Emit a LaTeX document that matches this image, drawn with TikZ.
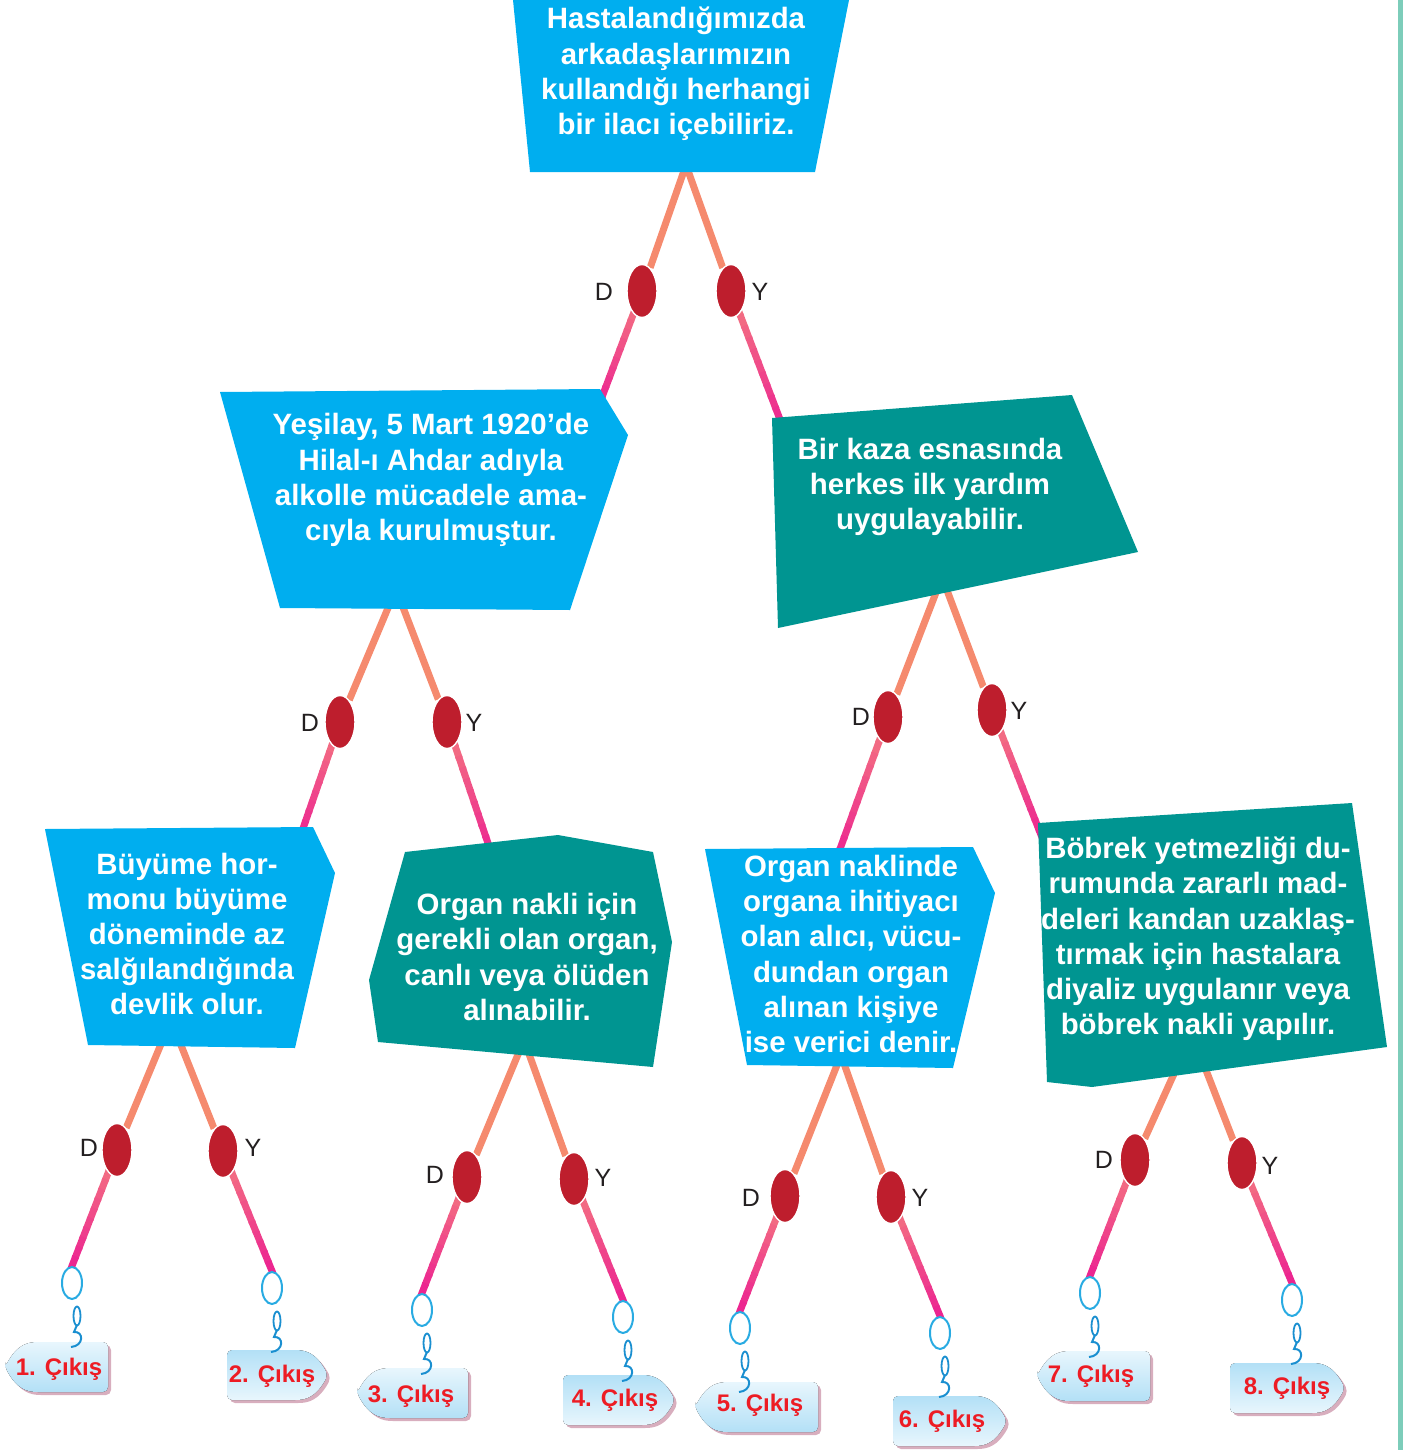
\documentclass[tikz,border=0pt]{standalone}
\usepackage{fontspec}
\setmainfont{Liberation Sans}
\usetikzlibrary{shapes.geometric,calc}
\definecolor{cyanbox}{HTML}{00AEEF}
\definecolor{tealbox}{HTML}{009591}
\definecolor{ellred}{HTML}{BE1E2D}
\definecolor{salmon}{HTML}{F58A6E}
\definecolor{pkA}{HTML}{F47A80}
\definecolor{pkB}{HTML}{EC2690}
\definecolor{ringblue}{HTML}{29ABE2}
\definecolor{hookblue}{HTML}{1A8FD0}
\definecolor{tagtop}{HTML}{E8F6FD}
\definecolor{tagbot}{HTML}{B3E0F6}
\definecolor{tagshadow}{HTML}{D8AEBE}
\definecolor{tagred}{HTML}{ED1C24}
\definecolor{sidegreen}{HTML}{7DCDBA}
\definecolor{labgray}{HTML}{231F20}
\pgfdeclarelayer{bg}
\pgfsetlayers{bg,main}
\tikzset{
 boxtext/.style={text=white,font=\bfseries\fontsize{14.7}{17.6}\selectfont,align=center,inner sep=0pt},
 dot/.style={ellipse,fill=ellred,draw=white,line width=0.7pt,minimum width=15pt,minimum height=26.5pt,inner sep=0pt},
 lab/.style={text=labgray,font=\fontsize{12.5}{14}\selectfont,inner sep=0pt},
 upline/.style={draw=salmon,line width=3.5pt},
 ring/.style={ellipse,draw=ringblue,fill=white,line width=1pt,minimum width=10pt,minimum height=16pt,inner sep=0pt},
 chainlink/.style={ellipse,draw=hookblue,line width=0.9pt,minimum width=3.5pt,minimum height=9.5pt,inner sep=0pt},
 tagtext/.style={text=tagred,font=\bfseries\fontsize{12}{13}\selectfont,inner sep=0pt},
}
\newcommand\gradseg[2]{%
 \foreach \i in {0,...,11}{%
  \pgfmathsetmacro\gsA{\i/12}%
  \pgfmathsetmacro\gsB{(\i+1.2)/12}%
  \pgfmathtruncatemacro\gcc{100-\i*100/11}%
  \draw[line width=3.5pt,color=pkA!\gcc!pkB] ($(#1)!\gsA!(#2)$) -- ($(#1)!\gsB!(#2)$);
 }}
% left-pointing tag: tip x, centre y, right x, options
\newcommand\tagL[4]{%
 \fill[rounded corners=2.5pt,#4] (#1,#2) .. controls ({#1+12},{#2-22}) and ({#1+22},{#2-25}) .. ({#1+38},{#2-25}) -- ({#3},{#2-25}) -- ({#3},{#2+25}) -- ({#1+38},{#2+25}) .. controls ({#1+22},{#2+25}) and ({#1+12},{#2+22}) .. (#1,#2) -- cycle;}
% right-pointing tag: left x, centre y, tip x, options
\newcommand\tagR[4]{%
 \fill[rounded corners=2.5pt,#4] ({#1},{#2-25}) -- ({#3-38},{#2-25}) .. controls ({#3-22},{#2-25}) and ({#3-12},{#2-22}) .. ({#3},{#2}) .. controls ({#3-12},{#2+22}) and ({#3-22},{#2+25}) .. ({#3-38},{#2+25}) -- ({#1},{#2+25}) -- cycle;}
\newcommand\hookat[1]{%
 \node[chainlink] at ($(#1)+(5,33)$) {};
 \draw[hookblue,line width=1pt] ($(#1)+(5,42)$) -- ($(#1)+(2,49)$) .. controls ($(#1)+(12,48)$) and ($(#1)+(12,63)$) .. ($(#1)+(-1,64)$);}
\begin{document}
\begin{tikzpicture}[x=0.5pt,y=-0.5pt]
\useasboundingbox (0,0) rectangle (1405,1450);
\fill[sidegreen] (1398,0) rectangle (1403,1450);
% ---------- boxes ----------
\fill[cyanbox] (513,0) -- (849,0) -- (815,172) -- (530,172) -- cycle;
\fill[cyanbox] (220,392) -- (600,389) -- (628,435) -- (570,610) -- (280,608) -- cycle;
\fill[tealbox] (772,418) -- (1072,395) -- (1138,552) -- (778,628) -- cycle;
\fill[cyanbox] (45,829) -- (313,827) -- (335,873) -- (295,1048) -- (88,1045) -- cycle;
\fill[tealbox] (405,852) -- (558,835) -- (653,852) -- (672,942) -- (653,1067) -- (378,1042) -- (369,980) -- cycle;
\fill[cyanbox] (705,849) -- (973,847) -- (995,893) -- (953,1068) -- (747,1065) -- cycle;
\fill[tealbox] (1038,823) -- (1352,803) -- (1387,1047) -- (1092,1087) -- (1047,1082) -- cycle;
\node[boxtext] (b1) at (676,74) {Hastalandığımızda\\arkadaşlarımızın\\kullandığı herhangi\\bir ilacı içebiliriz.};
\node[boxtext] (b2) at (431,480) {Yeşilay, 5 Mart 1920’de\\Hilal-ı Ahdar adıyla\\alkolle mücadele ama-\\cıyla kurulmuştur.};
\node[boxtext] (b3) at (930,487) {Bir kaza esnasında\\herkes ilk yardım\\uygulayabilir.};
\node[boxtext] (b4) at (187,934) {Büyüme hor-\\monu büyüme\\döneminde az\\salğılandığında\\devlik olur.};
\node[boxtext] (b5) at (527,957) {Organ nakli için\\gerekli olan organ,\\canlı veya ölüden\\alınabilir.};
\node[boxtext] (b6) at (851,954) {Organ naklinde\\organa ihitiyacı\\olan alıcı, vücu-\\dundan organ\\alınan kişiye\\ise verici denir.};
\node[boxtext] (b7) at (1198,939) {Böbrek yetmezliği du-\\rumunda zararlı mad-\\deleri kandan uzaklaş-\\tırmak için hastalara\\diyaliz uygulanır veya\\böbrek nakli yapılır.};
% ---------- hidden junction points ----------
\coordinate (a1) at (686,165);
\coordinate (a2) at (396,589);
\coordinate (a3) at (942,577);
\coordinate (a4) at (171,1020);
\coordinate (a5) at (524,1040);
\coordinate (a6) at (841,1055);
\coordinate (a7) at (1192,1034);
\coordinate (c2) at (599,405);
\coordinate (c3) at (784,430);
\coordinate (c4) at (299,840);
\coordinate (c5) at (493,858);
\coordinate (c6) at (836,860);
\coordinate (c7) at (1043,840);
% ---------- decision dots ----------
\node[dot] (e1D) at (642,291) {};  \node[dot] (e1Y) at (731,291) {};
\node[dot] (e2D) at (340,722) {};  \node[dot] (e2Y) at (447,722) {};
\node[dot] (e3D) at (888,717) {};  \node[dot] (e3Y) at (992,710) {};
\node[dot] (e4D) at (117,1150) {}; \node[dot] (e4Y) at (223,1151) {};
\node[dot] (e5D) at (467,1177) {}; \node[dot] (e5Y) at (574,1179) {};
\node[dot] (e6D) at (785,1196) {}; \node[dot] (e6Y) at (891,1197) {};
\node[dot] (e7D) at (1135,1160) {}; \node[dot] (e7Y) at (1242,1163) {};
% ---------- labels ----------
\node[lab] (l1D) at (604,292) {D};  \node[lab] (l1Y) at (760,292) {Y};
\node[lab] (l2D) at (310,723) {D};  \node[lab] (l2Y) at (474,723) {Y};
\node[lab] (l3D) at (861,717) {D};  \node[lab] (l3Y) at (1019,711) {Y};
\node[lab] (l4D) at (89,1148) {D};  \node[lab] (l4Y) at (253,1148) {Y};
\node[lab] (l5D) at (435,1175) {D}; \node[lab] (l5Y) at (603,1178) {Y};
\node[lab] (l6D) at (751,1198) {D}; \node[lab] (l6Y) at (920,1198) {Y};
\node[lab] (l7D) at (1104,1160) {D}; \node[lab] (l7Y) at (1270,1166) {Y};
% ---------- exit tags ----------
\tagL{5}{1367}{108}{tagshadow,shift={(3,3)}}   \tagL{5}{1367}{108}{top color=tagtop,bottom color=tagbot}
\tagR{227}{1375}{328}{tagshadow,shift={(3,3)}} \tagR{227}{1375}{328}{top color=tagbot,bottom color=tagtop}
\tagL{357}{1393}{468}{tagshadow,shift={(3,3)}} \tagL{357}{1393}{468}{top color=tagtop,bottom color=tagbot}
\tagR{563}{1400}{675}{tagshadow,shift={(3,3)}} \tagR{563}{1400}{675}{top color=tagbot,bottom color=tagtop}
\tagL{695}{1407}{818}{tagshadow,shift={(3,3)}} \tagL{695}{1407}{818}{top color=tagtop,bottom color=tagbot}
\tagR{893}{1421}{1007}{tagshadow,shift={(3,3)}} \tagR{893}{1421}{1007}{top color=tagbot,bottom color=tagtop}
\tagL{1037}{1376}{1150}{tagshadow,shift={(3,3)}} \tagL{1037}{1376}{1150}{top color=tagtop,bottom color=tagbot}
\tagR{1230}{1388}{1345}{tagshadow,shift={(3,3)}} \tagR{1230}{1388}{1345}{top color=tagbot,bottom color=tagtop}
\node[tagtext] (t1) at (59,1369) {1. Çıkış};
\node[tagtext] (t2) at (272,1376) {2. Çıkış};
\node[tagtext] (t3) at (411,1396) {3. Çıkış};
\node[tagtext] (t4) at (615,1400) {4. Çıkış};
\node[tagtext] (t5) at (760,1405) {5. Çıkış};
\node[tagtext] (t6) at (942,1421) {6. Çıkış};
\node[tagtext] (t7) at (1091,1376) {7. Çıkış};
\node[tagtext] (t8) at (1287,1388) {8. Çıkış};
% ---------- rings and hooks ----------
\node[ring] (r1) at (72,1283) {};
\node[ring] (r2) at (272,1288) {};
\node[ring] (r3) at (422,1310) {};
\node[ring] (r4) at (623,1317) {};
\node[ring] (r5) at (740,1328) {};
\node[ring] (r6) at (940,1333) {};
\node[ring] (r7) at (1090,1293) {};
\node[ring] (r8) at (1292,1300) {};
\hookat{r1}\hookat{r2}\hookat{r3}\hookat{r4}\hookat{r5}\hookat{r6}\hookat{r7}\hookat{r8}
% ---------- connectors ----------
\begin{pgfonlayer}{bg}
\draw[upline] (a1) -- (e1D); \draw[upline] (a1) -- (e1Y);
\draw[upline] (a2) -- (e2D); \draw[upline] (a2) -- (e2Y);
\draw[upline] (a3) -- (e3D); \draw[upline] (a3) -- (e3Y);
\draw[upline] (a4) -- (e4D); \draw[upline] (a4) -- (e4Y);
\draw[upline] (a5) -- (e5D); \draw[upline] (a5) -- (e5Y);
\draw[upline] (a6) -- (e6D); \draw[upline] (a6) -- (e6Y);
\draw[upline] (a7) -- (e7D); \draw[upline] (a7) -- (e7Y);
\gradseg{e1D}{c2} \gradseg{e1Y}{c3}
\gradseg{e2D}{c4} \gradseg{e2Y}{c5}
\gradseg{e3D}{c6} \gradseg{e3Y}{c7}
\gradseg{e4D}{r1.north} \gradseg{e4Y}{r2.north}
\gradseg{e5D}{r3.north} \gradseg{e5Y}{r4.north}
\gradseg{e6D}{r5.north} \gradseg{e6Y}{r6.north}
\gradseg{e7D}{r7.north} \gradseg{e7Y}{r8.north}
\end{pgfonlayer}
\end{tikzpicture}
\end{document}
